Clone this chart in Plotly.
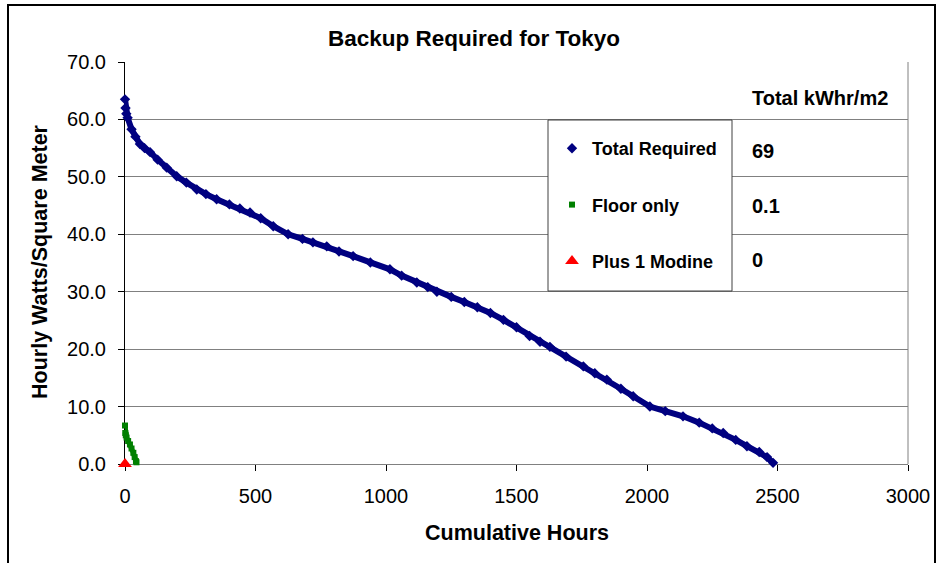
import plotly.graph_objects as go

# ---- data ----
total_hours = [0, 2, 5, 10, 25, 40, 57, 75, 96, 125, 160, 198, 235, 275, 310, 351, 400, 440,
               479, 520, 568, 625, 680, 720, 773, 820, 874, 940, 1015, 1060, 1118, 1160, 1195,
               1250, 1300, 1350, 1400, 1450, 1500, 1550, 1590, 1628, 1690, 1756, 1800, 1846,
               1900, 1947, 2011, 2070, 2138, 2200, 2250, 2292, 2340, 2383, 2430, 2460, 2483]
total_values = [63.5, 62.0, 61.0, 60.3, 58.3, 57.0, 55.7, 55.0, 54.3, 53.0, 51.6, 50.1, 49.0,
                47.8, 47.0, 46.1, 45.2, 44.5, 43.8, 42.8, 41.4, 40.0, 39.2, 38.6, 37.9, 37.0,
                36.2, 35.1, 33.9, 32.8, 31.6, 30.8, 30.0, 29.1, 28.2, 27.3, 26.3, 25.1, 23.8,
                22.3, 21.3, 20.4, 18.7, 17.0, 15.8, 14.7, 13.1, 11.8, 10.0, 9.2, 8.3, 7.2, 6.2,
                5.4, 4.2, 3.1, 2.1, 1.2, 0.2]
floor_hours = [0, 1, 3, 6, 12, 19, 25, 32, 37, 42, 44]
floor_values = [6.7, 5.4, 5.0, 4.6, 4.0, 3.4, 2.7, 1.95, 1.2, 0.5, 0.3]
modine_hours = [0]
modine_values = [0.0]

series_names = ["Total Required", "Floor only", "Plus 1 Modine"]
totals_header = "Total kWhr/m2"
totals_kwh = ["69", "0.1", "0"]

x_ticks = [0, 500, 1000, 1500, 2000, 2500, 3000]
y_ticks = [0, 10, 20, 30, 40, 50, 60, 70]

# ---- layout geometry (pixels) ----
FW, FH = 937, 563
L, R, T, B = 125, 908, 62, 464
W, H = R - L, B - T


def px(x):
    return (x - L) / W


def py(y):
    return (B - y) / H


FONT = "Arial, Liberation Sans, sans-serif"
NAVY = "#000080"
GREEN = "#008000"
RED = "#FF0000"
GRID = "#808080"

fig = go.Figure()

# thick band for the dense total-required markers
fig.add_trace(go.Scatter(x=total_hours, y=total_values, mode="lines",
                         line=dict(color=NAVY, width=6), showlegend=False, hoverinfo="skip",
                         cliponaxis=False))
fig.add_trace(go.Scatter(x=total_hours, y=total_values, mode="markers", name=series_names[0],
                         marker=dict(symbol="diamond", size=8, color=NAVY),
                         legendgroup="a", cliponaxis=False))
fig.add_trace(go.Scatter(x=floor_hours, y=floor_values, mode="lines",
                         line=dict(color=GREEN, width=5), showlegend=False, hoverinfo="skip",
                         cliponaxis=False))
fig.add_trace(go.Scatter(x=floor_hours, y=floor_values, mode="markers", name=series_names[1],
                         marker=dict(symbol="square", size=6, color=GREEN),
                         legendgroup="b", cliponaxis=False))
fig.add_trace(go.Scatter(x=modine_hours, y=modine_values, mode="markers", name=series_names[2],
                         marker=dict(symbol="triangle-up", size=12, color=RED,
                                     line=dict(width=0)),
                         legendgroup="c", cliponaxis=False))

shapes = [
    # outer chart border
    dict(type="rect", xref="paper", yref="paper", x0=px(8), x1=px(935), y0=py(575), y1=py(5),
         line=dict(color="black", width=2), layer="below"),
    # right plot border
    dict(type="line", xref="paper", yref="paper", x0=1, x1=1, y0=0, y1=1,
         line=dict(color=GRID, width=1)),
    # legend box
    dict(type="rect", xref="paper", yref="paper", x0=px(548), x1=px(732), y0=py(291), y1=py(120),
         line=dict(color="#404040", width=1), fillcolor="white", layer="above"),
]

annotations = [
    dict(text=totals_header, xref="paper", yref="paper", x=px(750), y=py(98),
         xanchor="left", yanchor="middle", showarrow=False,
         font=dict(family=FONT, size=20, color="black", weight="bold")),
    dict(text="Cumulative Hours", xref="paper", yref="paper", x=px(517), y=py(533),
         xanchor="center", yanchor="middle", showarrow=False,
         font=dict(family=FONT, size=21.5, color="black", weight="bold")),
    dict(text="Hourly Watts/Square Meter", xref="paper", yref="paper", x=px(40), y=py(262),
         xanchor="center", yanchor="middle", showarrow=False, textangle=-90,
         font=dict(family=FONT, size=21.5, color="black", weight="bold")),
]
for val, yy in zip(totals_kwh, [151, 206, 260]):
    annotations.append(dict(text=val, xref="paper", yref="paper", x=px(750), y=py(yy),
                            xanchor="left", yanchor="middle", showarrow=False,
                            font=dict(family=FONT, size=20, color="black", weight="bold")))

fig.update_layout(
    width=FW, height=FH,
    margin=dict(l=L, r=FW - R, t=T, b=FH - B, pad=0, autoexpand=False),
    paper_bgcolor="white", plot_bgcolor="white",
    font=dict(family=FONT, color="black"),
    title=dict(text="Backup Required for Tokyo", x=px(474), xref="paper", xanchor="center",
               y=1 - 38 / FH, yanchor="middle",
               font=dict(family=FONT, size=22.5, color="black", weight="bold")),
    xaxis=dict(range=[0, 3000], tickvals=x_ticks, ticktext=[str(v) for v in x_ticks],
               showgrid=False, zeroline=False, showline=True, linecolor=GRID, linewidth=1,
               ticks="outside", ticklen=6, tickcolor="black", tickwidth=1,
               ticklabelstandoff=8, automargin=False, layer="below traces",
               tickfont=dict(family=FONT, size=20, color="black")),
    yaxis=dict(range=[0, 70], tickvals=y_ticks, tickformat=".1f",
               showgrid=True, gridcolor=GRID, gridwidth=1, zeroline=False,
               showline=True, linecolor="black", linewidth=1,
               ticks="outside", ticklen=6, tickcolor="black", tickwidth=1,
               ticklabelstandoff=8, automargin=False, layer="below traces",
               tickfont=dict(family=FONT, size=20, color="black")),
    showlegend=True,
    legend=dict(x=px(552), y=py(130), xanchor="left", yanchor="top",
                bgcolor="rgba(0,0,0,0)", borderwidth=0,
                traceorder="grouped", tracegroupgap=30,
                font=dict(family=FONT, size=18, color="black", weight="bold")),
    shapes=shapes,
    annotations=annotations,
)

fig.write_html("out.html", config={"displayModeBar": False},
               post_script="document.body.style.margin='0px';")
